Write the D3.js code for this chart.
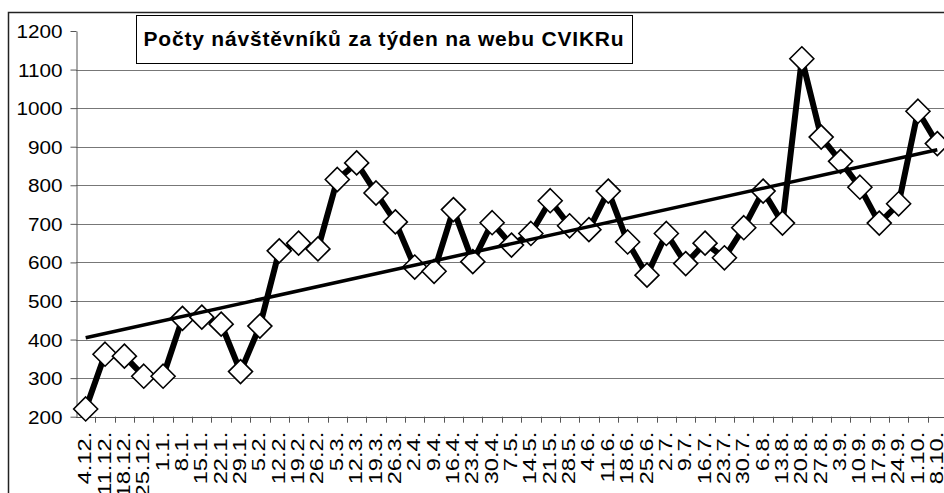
<!DOCTYPE html>
<html>
<head>
<meta charset="utf-8">
<script src="https://cdn.jsdelivr.net/npm/d3@7/dist/d3.min.js"></script>
<style>
  body { margin: 0; background: #fff; }
  text { font-family: "Liberation Sans", Arial, sans-serif; fill: #000; }
</style>
</head>
<body>
<svg id="graph" width="944" height="493"></svg>
<script>
// Týdny (pondělí) a počty návštěvníků
var weeks = ["4.12.", "11.12.", "18.12.", "25.12.", "1.1.", "8.1.", "15.1.", "22.1.", "29.1.",
  "5.2.", "12.2.", "19.2.", "26.2.", "5.3.", "12.3.", "19.3.", "26.3.", "2.4.", "9.4.", "16.4.",
  "23.4.", "30.4.", "7.5.", "14.5.", "21.5.", "28.5.", "4.6.", "11.6.", "18.6.", "25.6.", "2.7.",
  "9.7.", "16.7.", "23.7.", "30.7.", "6.8.", "13.8.", "20.8.", "27.8.", "3.9.", "10.9.", "17.9.",
  "24.9.", "1.10.", "8.10."];
var visitors = [220, 362, 357, 305, 305, 455, 458, 440, 317, 435,
  630, 650, 635, 815, 858, 780, 705, 588, 577, 737,
  602, 703, 645, 675, 760, 695, 685, 785, 653, 567,
  675, 597, 650, 612, 690, 785, 702, 1128, 925, 862,
  795, 702, 752, 992, 908];
var yTicks = [200, 300, 400, 500, 600, 700, 800, 900, 1000, 1100, 1200];
var title = "Počty návštěvníků za týden na webu CVIKRu";

var svg = d3.select("#graph");

var plot = { left: 76, right: 947, top: 31, bottom: 416.7 };

var x = d3.scaleBand().domain(weeks).range([plot.left, plot.right]).padding(0);
var y = d3.scaleLinear().domain([200, 1200]).range([plot.bottom, plot.top]);

var data = weeks.map(function(w, i) { return { week: w, i: i, v: visitors[i] }; });
function cx(d) { return x(d.week) + x.bandwidth() / 2; }

// Rámeček grafu
svg.append("rect")
  .attr("x", 8.5).attr("y", 12.5)
  .attr("width", 960).attr("height", 500)
  .attr("fill", "#fff").attr("stroke", "#222").attr("stroke-width", 1.5);

// Mřížka
svg.append("g").selectAll("line")
  .data(yTicks.filter(function(t) { return t > 200 && t < 1200; }))
  .enter().append("line")
  .attr("x1", plot.left).attr("x2", 944)
  .attr("y1", function(t) { return Math.round(y(t)) + 0.5; })
  .attr("y2", function(t) { return Math.round(y(t)) + 0.5; })
  .attr("stroke", "#777").attr("stroke-width", 1);

// Osa y
var yAxis = svg.append("g")
  .attr("transform", "translate(" + (plot.left + 0.5) + ",0)")
  .call(d3.axisLeft(y).tickValues(yTicks).tickSize(6).tickSizeOuter(0).tickFormat(d3.format("d")));
yAxis.select(".domain").attr("stroke", "#555");
yAxis.selectAll(".tick line").attr("stroke", "#555");
yAxis.selectAll(".tick text").remove();
yAxis.selectAll(".tick").append("text")
  .attr("text-anchor", "end")
  .attr("dy", "0.35em")
  .attr("transform", "translate(-14,0) scale(1.12,1)")
  .attr("font-size", 18.5)
  .text(function(t) { return t; });

// Osa x - čárky mezi kategoriemi
var xg = svg.append("g");
xg.append("line")
  .attr("x1", plot.left).attr("x2", 944)
  .attr("y1", Math.round(plot.bottom) + 0.5).attr("y2", Math.round(plot.bottom) + 0.5)
  .attr("stroke", "#555");
xg.selectAll(".xtick").data(weeks.slice(1)).enter().append("line")
  .attr("class", "xtick")
  .attr("x1", function(w) { return Math.round(x(w)) + 0.5; })
  .attr("x2", function(w) { return Math.round(x(w)) + 0.5; })
  .attr("y1", plot.bottom).attr("y2", plot.bottom + 6)
  .attr("stroke", "#555");
xg.selectAll(".xlabel").data(data).enter().append("text")
  .attr("class", "xlabel")
  .attr("text-anchor", "end")
  .attr("dy", "0.3em")
  .attr("font-size", 18.5)
  .attr("transform", function(d) {
    return "translate(" + cx(d) + "," + (plot.bottom + 15) + ") rotate(-90) scale(1.28,1)";
  })
  .text(function(d) { return d.week; });

// Řada návštěvníků
var line = d3.line().x(cx).y(function(d) { return y(d.v); });
svg.append("path")
  .datum(data)
  .attr("d", line)
  .attr("fill", "none")
  .attr("stroke", "#000")
  .attr("stroke-width", 6)
  .attr("stroke-linejoin", "round");

// Značky - kosočtverce
var r = 12;
svg.append("g").selectAll("path")
  .data(data).enter().append("path")
  .attr("d", function(d) {
    var px = cx(d), py = y(d.v);
    return "M" + px + "," + (py - r) + "L" + (px + r) + "," + py +
      "L" + px + "," + (py + r) + "L" + (px - r) + "," + py + "Z";
  })
  .attr("fill", "#fff")
  .attr("stroke", "#000")
  .attr("stroke-width", 1.6);

// Lineární trend (metoda nejmenších čtverců)
var n = data.length;
var mx = d3.mean(data, function(d) { return d.i; });
var my = d3.mean(data, function(d) { return d.v; });
var sxy = d3.sum(data, function(d) { return (d.i - mx) * (d.v - my); });
var sxx = d3.sum(data, function(d) { return (d.i - mx) * (d.i - mx); });
var slope = sxy / sxx;
var icpt = my - slope * mx;
var trend = [data[0], data[n - 1]].map(function(d) {
  return { week: d.week, v: icpt + slope * d.i };
});
svg.append("path")
  .datum(trend)
  .attr("d", line)
  .attr("fill", "none")
  .attr("stroke", "#000")
  .attr("stroke-width", 3.5);

// Nadpis
svg.append("rect")
  .attr("x", 136.5).attr("y", 15.5)
  .attr("width", 496).attr("height", 48)
  .attr("fill", "#fff").attr("stroke", "#000").attr("stroke-width", 1);
svg.append("text")
  .attr("x", 384).attr("y", 46)
  .attr("text-anchor", "middle")
  .attr("font-size", 21)
  .attr("font-weight", "bold")
  .attr("letter-spacing", 0.8)
  .text(title);
</script>
</body>
</html>
